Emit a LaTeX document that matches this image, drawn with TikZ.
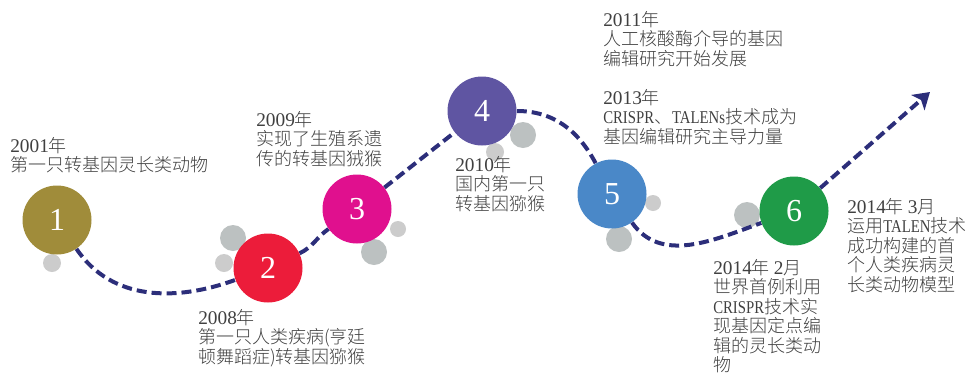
\documentclass[tikz,border=0pt]{standalone}
\usepackage{fontspec}
\setmainfont{Liberation Serif}
\newfontfamily\cjk{Noto Sans CJK SC Light}
\newfontfamily\latn[FakeStretch=0.82]{Liberation Serif}
\usetikzlibrary{arrows.meta}
\definecolor{colOlive}{HTML}{A08C3A}
\definecolor{colRed}{HTML}{EC1C3A}
\definecolor{colMagenta}{HTML}{E0108E}
\definecolor{colPurple}{HTML}{5F55A2}
\definecolor{colBlue}{HTML}{4A88C8}
\definecolor{colGreen}{HTML}{1F9B48}
\definecolor{dotBig}{HTML}{BCC1C1}
\definecolor{dotSmall}{HTML}{CCCCCC}
\definecolor{pathBlue}{HTML}{2C2E7A}
\definecolor{txtGrey}{HTML}{404040}
\newcommand{\Y}[1]{{\rmfamily\fontsize{14.5}{14.6}\selectfont #1}年}
\pgfdeclarelayer{dots}
\pgfdeclarelayer{lines}
\pgfsetlayers{dots,lines,main}
\tikzset{
  milestone/.style={circle, minimum size=51.75pt, inner sep=0pt, text=white,
    font=\rmfamily\fontsize{24}{24}\selectfont},
  desc/.style={anchor=north west, inner sep=0pt, align=left, text=txtGrey,
    font=\cjk\fontsize{13.5}{14.6}\selectfont},
  pathline/.style={draw=pathBlue, line width=3pt, dash pattern=on 7.5pt off 3.75pt},
  dotbig/.style={circle, fill=dotBig, minimum size=19.5pt, inner sep=0pt},
  dotsmall/.style={circle, fill=dotSmall, minimum size=13.5pt, inner sep=0pt},
}
\begin{document}
\begin{tikzpicture}[x=0.75pt, y=-0.75pt]
\useasboundingbox (0,0) rectangle (969,372);
% milestones
\node[milestone, fill=colOlive]   (c1) at (57,220) {1};
\node[milestone, fill=colRed]     (c2) at (268,268) {2};
\node[milestone, fill=colMagenta] (c3) at (357,209) {3};
\node[milestone, fill=colPurple]  (c4) at (482,111) {4};
\node[milestone, fill=colBlue]    (c5) at (612,194) {5};
\node[milestone, fill=colGreen]   (c6) at (794,211) {6};
\coordinate (tip) at (930,92);
% grey dots
\begin{pgfonlayer}{dots}
\node[dotsmall] (d1)  at (52,263) {};
\node[dotbig]   (d2a) at (233,238) {};
\node[dotsmall] (d2b) at (224,263) {};
\node[dotsmall, minimum size=12pt] (d3a) at (398,229) {};
\node[dotbig]   (d3b) at (374,252) {};
\node[dotbig]   (d4a) at (523,135) {};
\node[dotsmall] (d4b) at (495,152) {};
\node[dotsmall, minimum size=12pt] (d5a) at (653,203) {};
\node[dotbig]   (d5b) at (619,239) {};
\node[dotbig]   (d6)  at (747,215) {};
\end{pgfonlayer}
% dashed timeline
\begin{pgfonlayer}{lines}
\draw[pathline] (c1) to[out=-56, in=200] (c2);
\draw[pathline] (c2) to[out=25, in=215] (c3);
\draw[pathline] (c3) to[out=38, in=218] (c4);
\draw[pathline] (c4) to[out=0, in=118] (c5);
\draw[pathline] (c5) to[out=-55, in=200] (c6);
\draw[pathline, -{Stealth[length=12pt, width=15pt, inset=3pt]}] (c6) -- (tip);
\end{pgfonlayer}
% descriptions
\node[desc] (t1) at (10,137) {\Y{2001}\\第一只转基因灵长类动物};
\node[desc] (t2) at (198,309) {\Y{2008}\\第一只人类疾病(亨廷\\顿舞蹈症)转基因猕猴};
\node[desc] (t3) at (256,111) {\Y{2009}\\实现了生殖系遗\\传的转基因狨猴};
\node[desc] (t4) at (455,156) {\Y{2010}\\国内第一只\\转基因猕猴};
\node[desc] (t5a) at (603,11) {\Y{2011}\\人工核酸酶介导的基因\\编辑研究开始发展};
\node[desc] (t5b) at (603,89) {\Y{2013}\\{\latn CRISPR}、{\latn TALENs}技术成为\\基因编辑研究主导力量};
\node[desc] (t6a) at (713,259) {\Y{2014} {\rmfamily\fontsize{14.5}{14.6}\selectfont 2}月\\世界首例利用\\{\latn CRISPR}技术实\\现基因定点编\\辑的灵长类动\\物};
\node[desc] (t6b) at (847,198) {\Y{2014} {\rmfamily\fontsize{14.5}{14.6}\selectfont 3}月\\运用{\latn TALEN}技术\\成功构建的首\\个人类疾病灵\\长类动物模型};
\end{tikzpicture}
\end{document}
